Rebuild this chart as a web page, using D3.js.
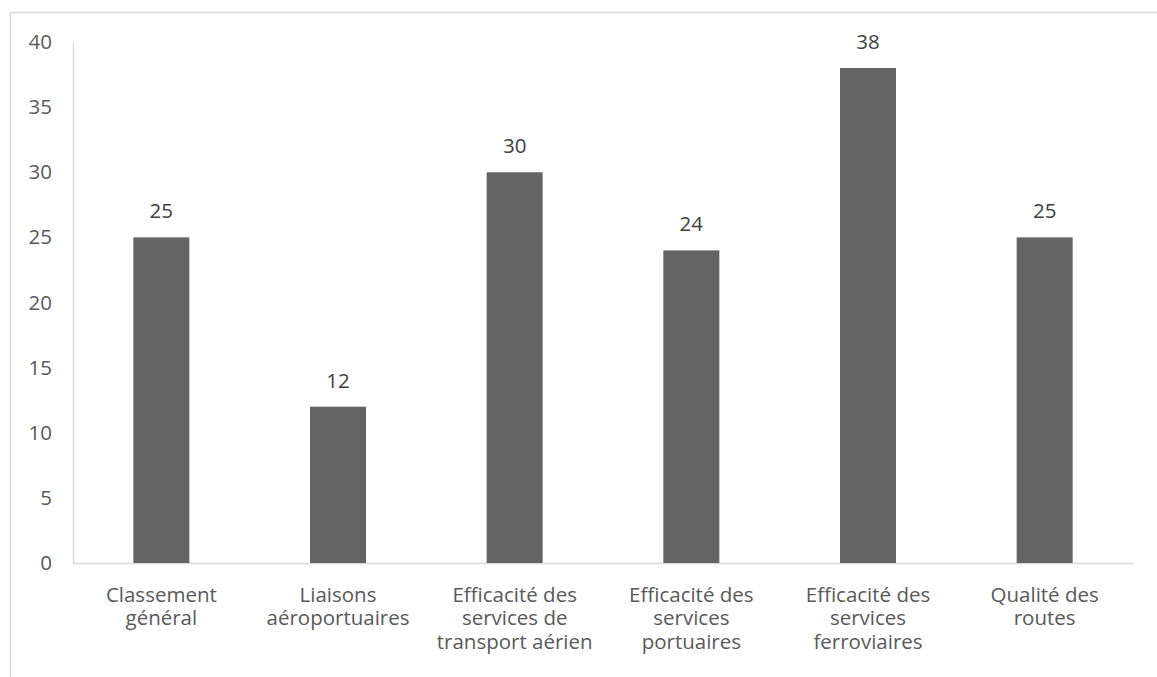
<!DOCTYPE html>
<html>
<head>
<meta charset="utf-8">
<script src="https://cdn.jsdelivr.net/npm/d3@7"></script>
<style>
  html, body { margin: 0; padding: 0; background: #fff; }
  svg { display: block; }
  text { font-family: "Open Sans", sans-serif; }
</style>
</head>
<body>
<svg id="chart" width="1157" height="677"></svg>
<script>
// Categories (line breaks mark where each axis label wraps)
const categories = [
  "Classement\ngénéral",
  "Liaisons\naéroportuaires",
  "Efficacité des\nservices de\ntransport aérien",
  "Efficacité des\nservices\nportuaires",
  "Efficacité des\nservices\nferroviaires",
  "Qualité des\nroutes"
];
const values = [25, 12, 30, 24, 38, 25];
const yTicks = [0, 5, 10, 15, 20, 25, 30, 35, 40];

const FONT = "'Open Sans', sans-serif";
const FONT_SIZE = "20.5px";
const svg = d3.select("#chart");

// Chart frame (only its top and left edges fall inside the view)
svg.append("rect")
  .attr("x", 10.5).attr("y", 12.5)
  .attr("width", 1200).attr("height", 700)
  .attr("fill", "none").attr("stroke", "#d9d9d9").attr("stroke-width", 1.5);

const plot = { left: 73, right: 1133, top: 42, bottom: 563 };

const x = d3.scaleBand()
  .domain(categories)
  .range([plot.left, plot.right])
  .paddingInner(0.683)
  .paddingOuter(0.3415);

const y = d3.scaleLinear()
  .domain([0, 40])
  .range([plot.bottom, plot.top]);

// Y axis: labels only, plus a light vertical rule
const yAxis = d3.axisLeft(y).tickValues(yTicks).tickSize(0).tickPadding(21);
const gy = svg.append("g").attr("transform", `translate(${plot.left},0)`).call(yAxis);
gy.select(".domain").attr("stroke", "#d9d9d9").attr("stroke-width", 1.5);
gy.selectAll("text")
  .attr("fill", "#595959")
  .style("font-size", FONT_SIZE)
  .style("font-family", FONT);

// X axis baseline with wrapped category labels
const xAxis = d3.axisBottom(x).tickSize(0).tickFormat(() => "");
const gx = svg.append("g").attr("transform", `translate(0,${plot.bottom})`).call(xAxis);
gx.select(".domain").attr("stroke", "#d9d9d9").attr("stroke-width", 1.5);

gx.selectAll(".tick").each(function(d) {
  const lines = d.split("\n");
  const t = d3.select(this).append("text")
    .attr("fill", "#595959")
    .attr("text-anchor", "middle")
    .style("font-size", FONT_SIZE)
    .style("font-family", FONT)
    .attr("y", 38.5);
  lines.forEach((ln, i) => {
    t.append("tspan").attr("x", 0).attr("dy", i === 0 ? 0 : 23.5).text(ln);
  });
});

// Bars
svg.append("g").selectAll("rect")
  .data(values)
  .join("rect")
  .attr("x", (d, i) => x(categories[i]))
  .attr("y", d => y(d))
  .attr("width", x.bandwidth())
  .attr("height", d => y(0) - y(d))
  .attr("fill", "#646464");

// Value labels above bars
svg.append("g").selectAll("text")
  .data(values)
  .join("text")
  .attr("x", (d, i) => x(categories[i]) + x.bandwidth() / 2)
  .attr("y", d => y(d) - 19)
  .attr("text-anchor", "middle")
  .attr("fill", "#404040")
  .style("font-size", FONT_SIZE)
  .style("font-family", FONT)
  .text(d => d);
</script>
</body>
</html>
